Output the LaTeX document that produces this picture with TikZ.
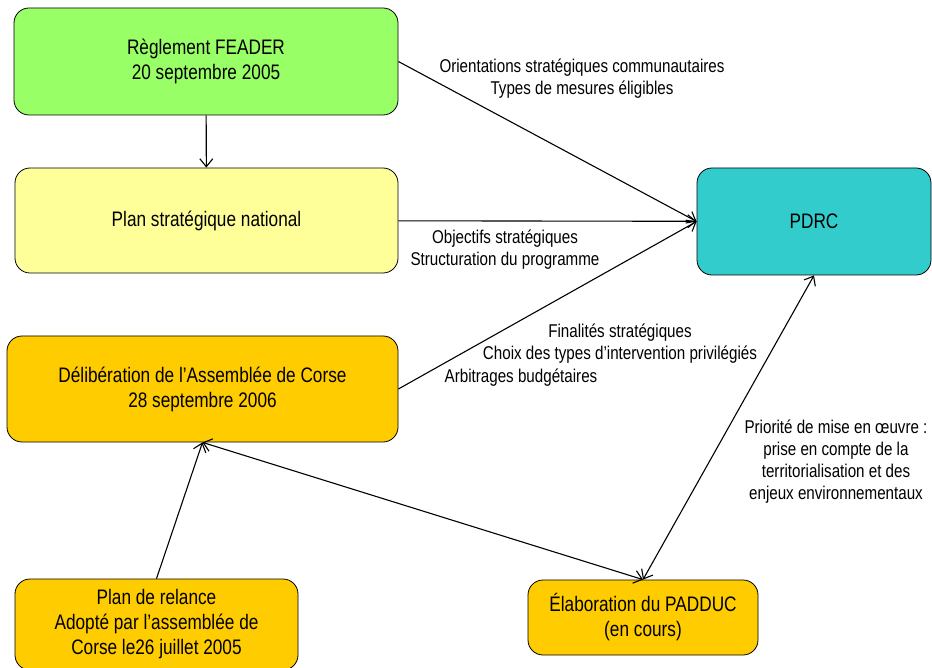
\documentclass[tikz,border=0pt]{standalone}
\usepackage{fontspec}
\setmainfont{Liberation Sans}[FakeStretch=0.82]
\usetikzlibrary{arrows.meta}

\definecolor{feadergreen}{HTML}{99FF66}
\definecolor{psnyellow}{HTML}{FFFF99}
\definecolor{corseorange}{HTML}{FFCC00}
\definecolor{pdrcteal}{HTML}{33CCCC}

\begin{document}
\begin{tikzpicture}[x=1pt,y=-1pt,>={Straight Barb[length=8pt,width=13pt]},
                    line width=1.1pt]
  \tikzstyle{box}=[draw,line width=0.8pt,rounded corners=15pt,align=center,
                   inner sep=0pt,font=\fontsize{21}{25}\selectfont]
  \tikzstyle{lbl}=[align=center,inner sep=0pt,font=\fontsize{18.5}{22}\selectfont]

  \useasboundingbox (0,0) rectangle (932,668);

  \node[box,fill=feadergreen,minimum width=384pt,minimum height=107pt] (feader)  at (206,61.5)
       {Règlement FEADER\\20 septembre 2005};
  \node[box,fill=psnyellow,minimum width=383pt,minimum height=105pt]   (psn)     at (206.5,220.5)
       {Plan stratégique national};
  \node[box,fill=corseorange,minimum width=391pt,minimum height=106pt] (delib)   at (202.5,389)
       {Délibération de l’Assemblée de Corse\\28 septembre 2006};
  \node[box,fill=pdrcteal,minimum width=234pt,minimum height=107pt]    (pdrc)    at (814,221.5)
       {PDRC};
  \node[box,fill=corseorange,minimum width=283pt,minimum height=91pt]  (relance) at (156.5,624.5)
       {Plan de relance\\Adopté par l’assemblée de\\Corse le26 juillet 2005};
  \node[box,fill=corseorange,minimum width=230pt,minimum height=75pt]  (padduc)  at (643,617.5)
       {Élaboration du PADDUC\\(en cours)};

  % libelles des fleches
  \node[lbl] (orient) at (582,79)    {Orientations stratégiques communautaires\\Types de mesures éligibles};
  \node[lbl] (object) at (505,249.5) {Objectifs stratégiques\\Structuration du programme};
  \node[lbl] (final)  at (620,344)   {Finalités stratégiques\\Choix des types d’intervention privilégiés};
  \node[lbl] (arbitr) at (521,378)   {Arbitrages budgétaires};
  \node[lbl] (prio)   at (836,462)   {Priorité de mise en œuvre :\\prise en compte de la\\territorialisation et des\\enjeux environnementaux};

  \draw[->]  (feader) -- (psn);
  \draw[->]  (feader.east) -- (pdrc.west);
  \draw[->]  (psn) -- (pdrc);
  \draw[->]  (delib.east) -- (pdrc.west);
  \draw[->]  (relance.north) -- (delib.south);
  \draw[<->] (delib.south) -- (padduc.north);
  \draw[<->] (pdrc.south) -- (padduc.north);
\end{tikzpicture}
\end{document}
